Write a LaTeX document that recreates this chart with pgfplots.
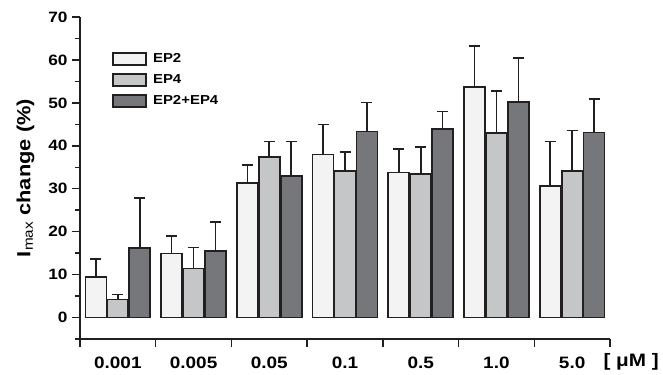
\documentclass[border=0pt]{standalone}
\usepackage{fontspec}
\setmainfont{Liberation Sans}[FakeStretch=1.15]
\usepackage{pgfplots}
\pgfplotsset{compat=1.18}
\usepackage{pgfplotstable}

\definecolor{cA}{HTML}{F2F3F2}
\definecolor{cB}{HTML}{C5C6C8}
\definecolor{cC}{HTML}{76777B}
\definecolor{edge}{HTML}{231F20}

\pgfplotstableread{
x y ey
0 9.4 4.2
1 14.9 4.1
2 31.3 4.2
3 38.0 7.0
4 33.8 5.4
5 53.7 9.6
6 30.6 10.4
}\tabA
\pgfplotstableread{
x y ey
0 4.2 1.2
1 11.4 4.9
2 37.4 3.6
3 34.1 4.5
4 33.4 6.3
5 42.9 9.8
6 34.1 9.5
}\tabB
\pgfplotstableread{
x y ey
0 16.2 11.6
1 15.5 6.7
2 33.0 8.0
3 43.3 6.8
4 43.9 4.1
5 50.2 10.2
6 43.1 7.8
}\tabC

\begin{document}
\begin{tikzpicture}
\begin{axis}[
  scale only axis,
  width=530pt, height=322pt,
  xmin=-0.5, xmax=6.5, ymin=-5, ymax=70,
  axis x line*=bottom, axis y line*=left,
  axis line style={line width=1.8pt, color=edge},
  tick style={line width=1.5pt, color=edge},
  tick align=outside,
  major tick length=8pt, minor tick length=4.5pt,
  ytick={0,10,...,70}, minor ytick={-5,5,...,65},
  xtick={-0.5,0.5,...,6.5}, xticklabels={},
  extra x ticks={0,1,2,3,4,5,6},
  extra x tick labels={0.001,0.005,0.05,0.1,0.5,1.0,5.0},
  extra x tick style={major tick length=0pt, tick style={draw=none},
     xticklabel style={font=\bfseries\fontsize{16.5}{16.5}\selectfont, yshift=-14pt}},
  /pgf/number format/assume math mode=true,
  yticklabel style={font=\bfseries\fontsize{15}{15}\selectfont, xshift=-1pt},
  ylabel={I\textsubscript{\mdseries max} change (\%)},
  ylabel style={font=\bfseries\fontsize{19}{19}\selectfont, yshift=7pt},
  ybar=1pt, bar width=0.277,
  legend style={at={(rel axis cs:0.055,0.90)}, anchor=north west, draw=none, fill=none,
     font=\bfseries\fontsize{13}{13}\selectfont, row sep=6.5pt},
  legend cell align=left,
  clip=false,
]
\pgfplotsset{mybar/.style={draw=edge, line width=1.7pt, fill=#1,
   legend image code/.code={\draw[draw=edge, line width=1.7pt, fill=#1] (0pt,-6pt) rectangle (33pt,6pt); \path (37pt,0pt);},
   error bars/.cd, y dir=plus, y explicit,
   error bar style={line width=1.6pt, draw=edge},
   error mark options={rotate=90, mark size=5.5pt, line width=1.6pt, draw=edge}}}
\addplot[mybar=cA] table[x=x, y=y, y error=ey] {\tabA};
\addplot[mybar=cB] table[x=x, y=y, y error=ey] {\tabB};
\addplot[mybar=cC] table[x=x, y=y, y error=ey] {\tabC};
\legend{EP2, EP4, EP2+EP4}
\node[font=\bfseries\fontsize{18}{18}\selectfont] at ([yshift=-23pt]rel axis cs:1.04,0) {[ μM ]};
\end{axis}
\pgfresetboundingbox
\path[use as bounding box] ([shift={(-80pt,-36pt)}]current axis.south west) rectangle ([shift={(53pt,17pt)}]current axis.north east);
\end{tikzpicture}
\end{document}
